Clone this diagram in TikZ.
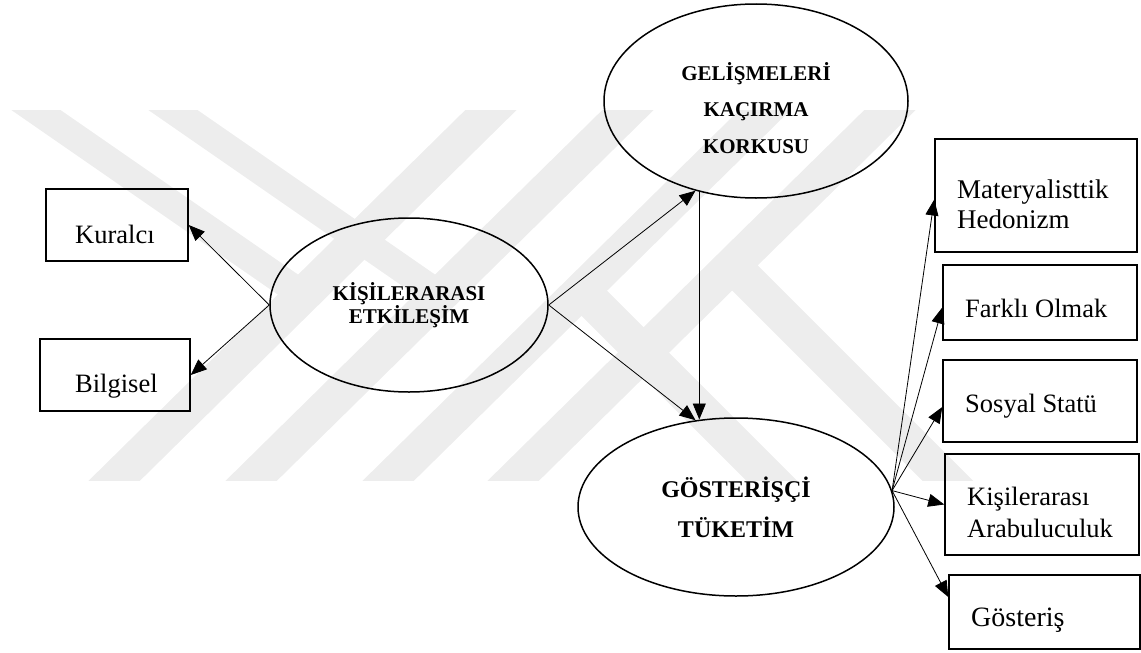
\documentclass[tikz,border=0pt]{standalone}
\usepackage{fontspec}
\setmainfont{Liberation Serif}
\usetikzlibrary{arrows.meta,shapes.geometric}

\tikzset{
  oval/.style={ellipse, draw, line width=1.5pt, inner sep=0pt, align=center},
  kutu/.style={rectangle, draw, line width=1.5pt, inner sep=0pt},
  etiket/.style={inner sep=0pt, anchor=base west, font=\fontsize{26.5}{30}\selectfont},
  ok/.style={-{Triangle[length=16pt,width=13pt]}, line width=0.8pt},
  iz/.style={line width=#1, draw=black!7},
}

\begin{document}
\begin{tikzpicture}[x=1pt, y=-1pt]
    \useasboundingbox (0,0) rectangle (1141,653);
    % faint watermark behind the diagram
    \begin{scope}
        \clip (0,110) rectangle (1141,480);
        \foreach \b in {115,252,389,514}
            \draw[iz=36] (\b-20.3,500) -- (\b+396.3,90);
        \draw[iz=28] (7,90) -- (303,295);
        \draw[iz=28] (144,90) -- (440,295);
        \draw[iz=36] (581,290) -- (791,500);
        \draw[iz=36] (732,265) -- (967,500);
    \end{scope}

    % latent variables
    \node[oval, minimum width=304, minimum height=194, font=\bfseries\fontsize{21}{36.5}\selectfont] (gel) at (756,101) {\rule{0pt}{32pt}GELİŞMELERİ\\KAÇIRMA\\KORKUSU};
    \node[oval, minimum width=278, minimum height=174, font=\bfseries\fontsize{21}{22.5}\selectfont] (kisi) at (409,305) {KİŞİLERARASI\\ETKİLEŞİM};
    \node[oval, minimum width=316, minimum height=178, font=\bfseries\fontsize{24}{40}\selectfont] (gos) at (736,507) {GÖSTERİŞÇİ\\TÜKETİM};

    % indicators
    \node[kutu, minimum width=142, minimum height=72] (kural) at (117,225) {};
    \node[kutu, minimum width=150, minimum height=72] (bilg) at (115,375) {};
    \node[kutu, minimum width=202, minimum height=113] (mat) at (1036,195.5) {};
    \node[kutu, minimum width=194, minimum height=75] (far) at (1040,302.5) {};
    \node[kutu, minimum width=194, minimum height=82] (sos) at (1040,401) {};
    \node[kutu, minimum width=194, minimum height=101] (arb) at (1042,504.5) {};
    \node[kutu, minimum width=191, minimum height=74] (gost) at (1044.5,612) {};

    \node[etiket] (kural-t) at (75,243) {Kuralcı};
    \node[etiket] (bilg-t) at (75,392) {Bilgisel};
    \node[etiket, font=\fontsize{27}{30}\selectfont] (mat-t) at (957,198) {\begin{tabular}[t]{@{}l@{}}Materyalisttik\\Hedonizm\end{tabular}};
    \node[etiket] (far-t) at (965,317) {Farklı Olmak};
    \node[etiket] (sos-t) at (965,412) {Sosyal Statü};
    \node[etiket, font=\fontsize{26.5}{32}\selectfont] (arb-t) at (967,505) {\begin{tabular}[t]{@{}l@{}}Kişilerarası\\Arabuluculuk\end{tabular}};
    \node[etiket, font=\fontsize{28}{30}\selectfont] (gost-t) at (971,626) {Gösteriş};

    % paths
    \draw[ok] (kisi.west) -- (kural.east);
    \draw[ok] (kisi.west) -- (bilg.east);
    \draw[ok] (kisi.east) -- (gel.236);
    \draw[ok] (kisi.east) -- (gos.115);
    \draw[ok] (gel.238) -- (gel.238 |- gos.112);
    \foreach \k/\s in {mat/-4, far/-5, sos/-6, arb/0, gost/15}
        \draw[ok] (gos.6) -- ([yshift=\s pt]\k.west);
\end{tikzpicture}
\end{document}
